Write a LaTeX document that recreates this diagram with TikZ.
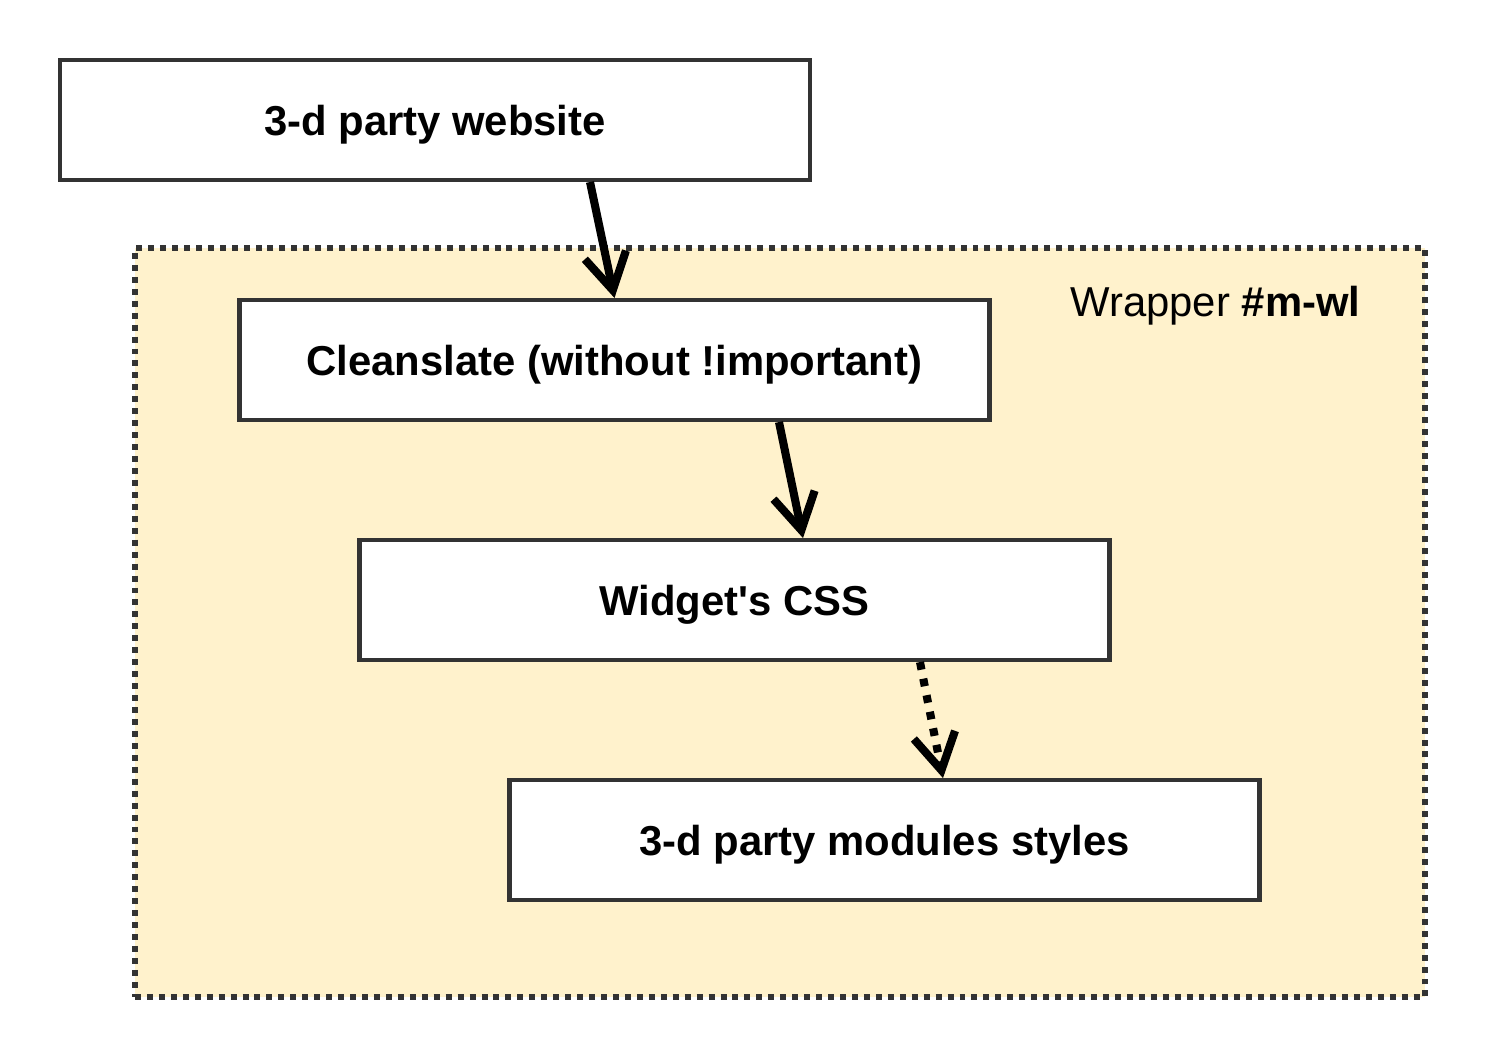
\documentclass[tikz,border=0pt]{standalone}
\usepackage{fontspec}
\setmainfont{Liberation Sans}
\usepackage{xcolor}
\usetikzlibrary{arrows.meta,positioning}

\definecolor{wrapfill}{HTML}{FFF2CC}
\definecolor{edgegray}{HTML}{333333}

\begin{document}
\begin{tikzpicture}[
node distance=1.16cm and 1.2cm,
box/.style={draw=edgegray, fill=white, line width=1.15pt, minimum height=12mm, minimum width=75mm, text depth=0pt, align=center, font=\fontsize{11.9}{14}\selectfont\bfseries},
arr/.style={-{Straight Barb[length=3.6mm, width=4.2mm]}, line width=2.3pt},
dotarr/.style={arr, dash pattern=on 2.2pt off 2.6pt}
]
\useasboundingbox (0,0) rectangle (14.94,-10.57);

% wrapper area
\node[draw=edgegray, fill=wrapfill, line width=1.5pt, dash pattern=on 1.7pt off 1.7pt,
      minimum width=12.9cm, minimum height=7.49cm, inner sep=0pt] (wrap) at (7.8,-6.225) {};
\node[anchor=base east, inner sep=0pt, font=\fontsize{11.9}{14}\selectfont] (wlabel) at (13.61,-3.17) {Wrapper \textbf{\#m-wl}};

\node[box] (web) at (4.35,-1.2) {3-d party website};
\node[box, below=of web, xshift=1.795cm] (clean) {Cleanslate (without !important)};
\node[box, below=of clean, xshift=1.2cm] (widget) {Widget\textquotesingle s CSS};
\node[box, below=of widget, xshift=1.5cm] (mods) {3-d party modules styles};

\draw[arr] ([xshift=1.55cm]web.south) -- (clean.north);
\draw[arr] ([xshift=1.645cm]clean.south) -- ([xshift=0.685cm]widget.north);
\draw[dotarr] ([xshift=1.855cm]widget.south) -- ([xshift=0.585cm]mods.north);
\end{tikzpicture}
\end{document}
